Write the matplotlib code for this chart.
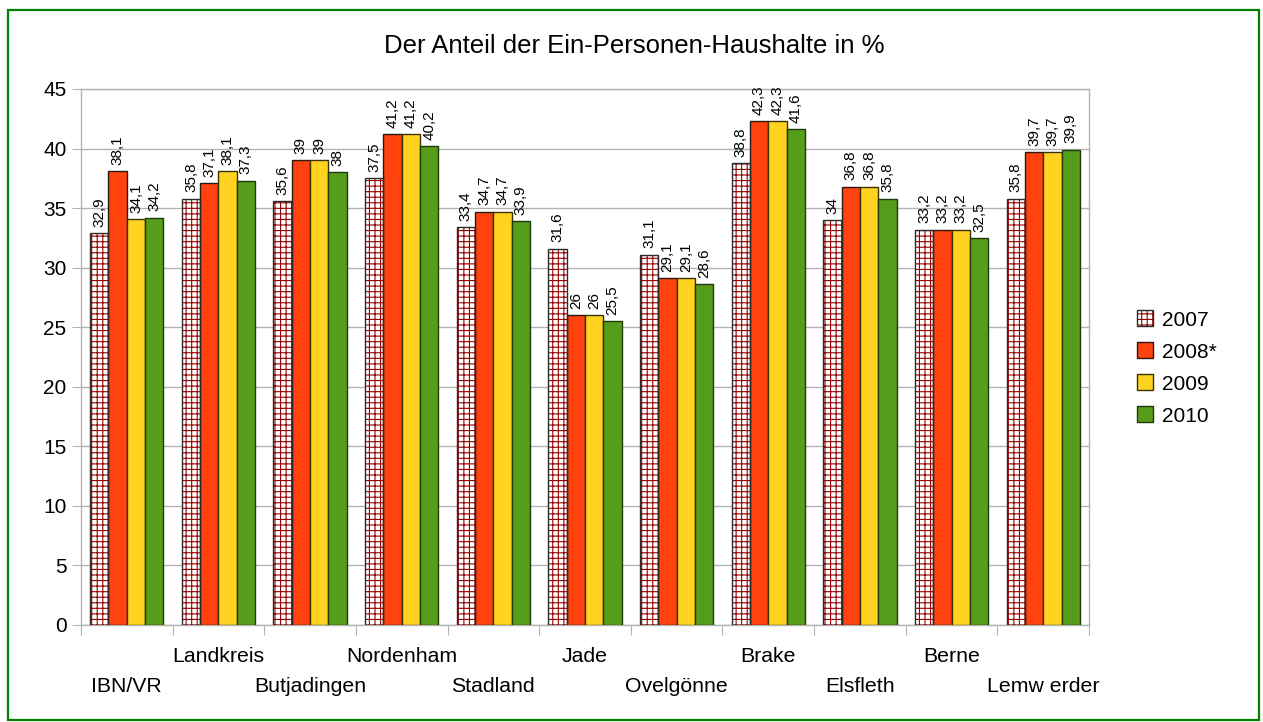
import matplotlib
matplotlib.use("Agg")
import matplotlib.pyplot as plt
from matplotlib.patches import Rectangle
from matplotlib.legend_handler import HandlerTuple
import numpy as np

plt.rcParams['font.family'] = ['Liberation Sans', 'DejaVu Sans']

categories = ["IBN/VR", "Landkreis", "Butjadingen", "Nordenham", "Stadland", "Jade",
              "Ovelgönne", "Brake", "Elsfleth", "Berne", "Lemw erder"]
series_names = ["2007", "2008*", "2009", "2010"]
v2007 = [32.9, 35.8, 35.6, 37.5, 33.4, 31.6, 31.1, 38.8, 34.0, 33.2, 35.8]
v2008 = [38.1, 37.1, 39.0, 41.2, 34.7, 26.0, 29.1, 42.3, 36.8, 33.2, 39.7]
v2009 = [34.1, 38.1, 39.0, 41.2, 34.7, 26.0, 29.1, 42.3, 36.8, 33.2, 39.7]
v2010 = [34.2, 37.3, 38.0, 40.2, 33.9, 25.5, 28.6, 41.6, 35.8, 32.5, 39.9]
yticks = [0, 5, 10, 15, 20, 25, 30, 35, 40, 45]
title = "Der Anteil der Ein-Personen-Haushalte in %"

series = [v2007, v2008, v2009, v2010]
faces = ["white", "#ff420e", "#ffd320", "#579d1c"]
edges = ["#2b2b2b", "#2a1a10", "#3a3000", "#1f3a08"]

W, H = 1263, 722
fig = plt.figure(figsize=(W / 100, H / 100), dpi=100)
plt.rcParams['hatch.linewidth'] = 0.8

ax = fig.add_axes([81 / W, 1 - 625 / H, (1089 - 81) / W, (625 - 89) / H])

x = np.arange(len(categories))
bw = 0.2
handles = []
for k, vals in enumerate(series):
    pos = x + (k - 1.5) * bw
    if k == 0:
        hb = ax.bar(pos, vals, width=bw, facecolor=faces[k], edgecolor="#960000",
                    linewidth=0, hatch="+++", zorder=3)
        ob = ax.bar(pos, vals, width=bw, fill=False, edgecolor=edges[k],
                    linewidth=1.0, zorder=3.5)
        handles.append((hb, ob))
    else:
        b = ax.bar(pos, vals, width=bw, facecolor=faces[k], edgecolor=edges[k],
                   linewidth=1.0, zorder=3)
        handles.append(b)
    for xi, v in zip(pos, vals):
        s = ("%g" % v).replace(".", ",")
        ax.annotate(s, (xi, v), xytext=(0, 4.5), textcoords="offset points",
                    rotation=90, ha="center", va="bottom", fontsize=11, zorder=4)

ax.set_xlim(-0.5, len(categories) - 0.5)
ax.set_ylim(0, 45)
ax.set_yticks(yticks)
ax.set_yticklabels([str(t) for t in yticks])
ax.yaxis.grid(True, color="#b3b3b3", linewidth=1.0, zorder=0)
ax.tick_params(axis="y", length=6.5, color="#b3b3b3", labelsize=15, pad=4)
ax.set_xticks(np.arange(len(categories) + 1) - 0.5)
ax.set_xticklabels([])
ax.tick_params(axis="x", length=7.5, color="#b3b3b3")
for sp in ax.spines.values():
    sp.set_color("#b3b3b3")
    sp.set_linewidth(1.0)

for i, c in enumerate(categories):
    off = -61 if i % 2 == 0 else -31
    ax.annotate(c, (i, 0), xycoords=("data", "axes fraction"),
                xytext=(0, off * 0.72), textcoords="offset points",
                ha="center", va="center", fontsize=15.3)

fig.text(634.5 / W, 1 - 46 / H, title, ha="center", va="center", fontsize=18.5)

leg = fig.legend(handles=handles, labels=series_names, loc="center left",
                 bbox_to_anchor=(1137 / W, 1 - 368 / H), frameon=False,
                 fontsize=15, handlelength=0.78, handleheight=0.78,
                 handletextpad=0.4, labelspacing=0.62, borderpad=0, borderaxespad=0,
                 handler_map={tuple: HandlerTuple(ndivide=1, pad=0)})

fig.patches.append(Rectangle((8 / W, 1 - 720 / H), (1259 - 8) / W, (720 - 10) / H,
                             transform=fig.transFigure, fill=False,
                             edgecolor="#008000", linewidth=1.6))

fig.savefig("out.png", dpi=100)
